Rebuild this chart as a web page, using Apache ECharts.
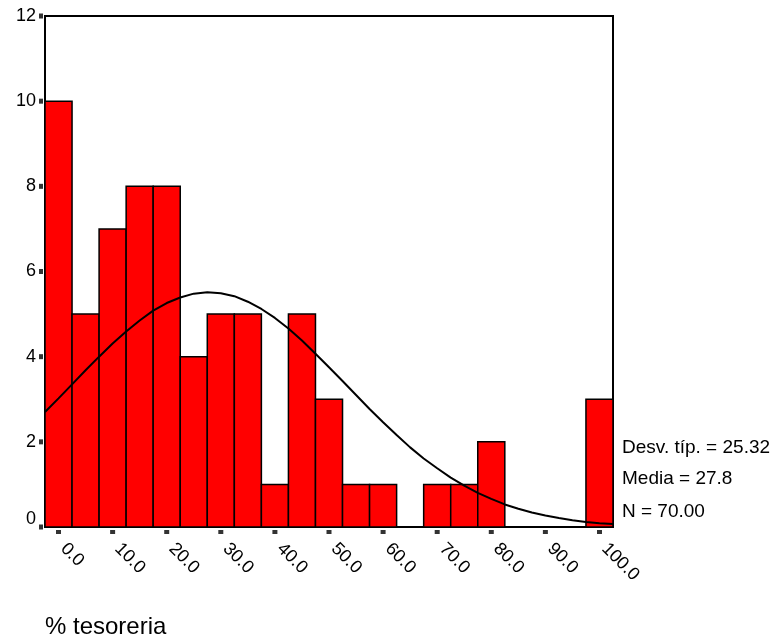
<!DOCTYPE html>
<html><head><meta charset="utf-8">
<script src="https://cdn.jsdelivr.net/npm/echarts@6/dist/echarts.min.js"></script>
<style>html,body{margin:0;padding:0;background:#fff}#c{width:781px;height:644px}</style>
</head><body><div id="c"></div>
<script>
const binCenters = [0,5,10,15,20,25,30,35,40,45,50,55,60,65,70,75,80,85,90,95,100];
const counts     = [10,5,7,8,8,4,5,5,1,5,3,1,1,0,1,1,2,0,0,0,3];
const binWidth = 5;
const curveX = [-2.5,0,2.5,5,7.5,10,12.5,15,17.5,20,22.5,25,27.5,30,32.5,35,37.5,40,42.5,45,47.5,50,52.5,55,57.5,60,62.5,65,67.5,70,72.5,75,77.5,80,82.5,85,87.5,90,92.5,95,97.5,100,102.5];
const curveY = [2.70,3.02,3.35,3.68,4.00,4.31,4.59,4.85,5.08,5.26,5.39,5.48,5.51,5.49,5.42,5.29,5.12,4.91,4.66,4.38,4.07,3.75,3.43,3.10,2.77,2.46,2.16,1.87,1.61,1.38,1.16,0.97,0.80,0.66,0.53,0.43,0.34,0.27,0.21,0.16,0.12,0.09,0.07];
const xTicks = [0,10,20,30,40,50,60,70,80,90,100];
const yTicks = [0,2,4,6,8,10,12];
const statLines = ["Desv. típ. = 25.32","Media = 27.8","N = 70.00"];
const xTitle = "% tesoreria";

const FONT = "'Liberation Sans', Arial, sans-serif";
const chart = echarts.init(document.getElementById('c'));
const barData = binCenters.map((c,i)=>[c,counts[i]]).filter(d=>d[1]>0);
const lineData = curveX.map((x,i)=>[x,curveY[i]]);
const xMin = -2.5, xMax = 102.5;

chart.setOption({
  animation:false,
  backgroundColor:'#fff',
  grid:{left:45,top:16,right:168,bottom:117,show:true,borderColor:'#000',borderWidth:2,backgroundColor:'transparent'},
  xAxis:{type:'value',min:xMin,max:xMax,
    axisLine:{show:true,onZero:false,lineStyle:{color:'#000',width:2}},
    axisTick:{show:false},
    axisLabel:{customValues:xTicks,rotate:-45,fontSize:18,color:'#000',fontFamily:FONT,margin:14,
      padding:[0,0,0,7],formatter:v=>v.toFixed(1)},
    splitLine:{show:false}},
  yAxis:{type:'value',min:0,max:12,interval:2,
    axisLine:{show:true,onZero:false,lineStyle:{color:'#000',width:2}},
    axisTick:{show:false},
    axisLabel:{fontSize:18,color:'#000',fontFamily:FONT,margin:9,
      formatter:v=>v===0?'{z|0}':String(v),
      rich:{z:{fontSize:18,fontFamily:FONT,color:'#000',padding:[0,0,16,0]}}},
    splitLine:{show:false}},
  series:[
    {type:'custom',data:barData,z:2,
      renderItem:function(params,api){
        const c=api.value(0), v=api.value(1);
        const p0=api.coord([c-binWidth/2,v]);
        const p1=api.coord([c+binWidth/2,0]);
        return {type:'rect',shape:{x:p0[0],y:p0[1],width:p1[0]-p0[0],height:p1[1]-p0[1]},
          style:{fill:'#ff0000',stroke:'#000',lineWidth:1.5}};
      }},
    {type:'line',data:lineData,showSymbol:false,symbol:'none',z:3,
      lineStyle:{color:'#000',width:2}},
    {type:'scatter',data:xTicks.map(t=>[t,0]),symbol:'rect',symbolSize:[5,4],symbolOffset:[0,5],
      clip:false,silent:true,z:4,itemStyle:{color:'#000'}},
    {type:'scatter',data:yTicks.map(t=>[xMin,t]),symbol:'rect',symbolSize:[4,5],symbolOffset:[-4,0],
      clip:false,silent:true,z:4,itemStyle:{color:'#000'}}
  ],
  graphic:[
    {type:'text',x:622,y:448,style:{text:statLines[0],font:'19px '+FONT,fill:'#000',verticalAlign:'middle'}},
    {type:'text',x:622,y:479,style:{text:statLines[1],font:'19px '+FONT,fill:'#000',verticalAlign:'middle'}},
    {type:'text',x:622,y:512,style:{text:statLines[2],font:'19px '+FONT,fill:'#000',verticalAlign:'middle'}},
    {type:'text',x:45,y:627,style:{text:xTitle,font:'24px '+FONT,fill:'#000',verticalAlign:'middle'}}
  ]
});
</script></body></html>
